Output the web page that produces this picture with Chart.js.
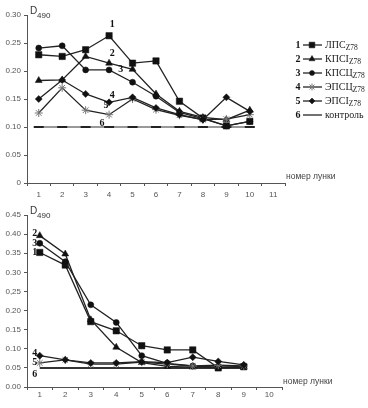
<!DOCTYPE html>
<html>
<head>
<meta charset="utf-8">
<script src="https://cdn.jsdelivr.net/npm/chart.js@4.4.1/dist/chart.umd.min.js"></script>
<style>
  body { margin: 0; background: #fff; }
  #wrap { position: relative; width: 368px; height: 408px; }
  canvas { position: absolute; left: 0; }
  #top { top: 0; }
  #bottom { top: 200px; }
</style>
</head>
<body>
<div id="wrap">
  <canvas id="top" width="368" height="200"></canvas>
  <canvas id="bottom" width="368" height="208"></canvas>
</div>
<script>
// данные
const wellsTop = ['1', '2', '3', '4', '5', '6', '7', '8', '9', '10', '11']
const wellsBottom = ['1', '2', '3', '4', '5', '6', '7', '8', '9', '10']

const seriesNames = ['ЛПС', 'КПСІ', 'КПСЦ', 'ЭПСЦ', 'ЭПСІ', 'контроль']

const lpsTop = [0.229, 0.226, 0.238, 0.263, 0.214, 0.218, 0.146, 0.116, 0.102, 0.110]
const kpsTop = [0.183, 0.184, 0.226, 0.214, 0.203, 0.159, 0.128, 0.117, 0.113, 0.130]
const kpscTop = [0.241, 0.245, 0.202, 0.202, 0.180, 0.155, 0.126, 0.115, 0.102, 0.110]
const epscTop = [0.125, 0.170, 0.130, 0.122, 0.150, 0.131, 0.121, 0.113, 0.114, 0.122]
const epsTop = [0.150, 0.184, 0.159, 0.144, 0.153, 0.134, 0.122, 0.113, 0.153, 0.128]
const controlTop = [0.10, 0.10, 0.10, 0.10, 0.10, 0.10, 0.10, 0.10, 0.10, 0.10]

const lpsBottom = [0.352, 0.319, 0.171, 0.147, 0.108, 0.097, 0.097, 0.050, 0.053]
const kpsBottom = [0.396, 0.348, 0.176, 0.104, 0.064, 0.054, 0.052, 0.052, 0.052]
const kpscBottom = [0.376, 0.328, 0.215, 0.169, 0.082, 0.062, 0.055, 0.052, 0.053]
const epscBottom = [0.063, 0.071, 0.060, 0.060, 0.065, 0.060, 0.055, 0.057, 0.055]
const epsBottom = [0.082, 0.071, 0.063, 0.063, 0.066, 0.064, 0.078, 0.067, 0.058]
const controlBottom = [0.05, 0.05, 0.05, 0.05, 0.05, 0.05, 0.05, 0.05, 0.05]

const yTicksTop = ['0', '0.05', '0.10', '0.15', '0.20', '0.25', '0.30']
const yTicksBottom = ['0.00', '0.05', '0.10', '0.15', '0.20', '0,25', '0.30', '0.35', '0.40', '0.45']

const tickFont = { family: 'Liberation Sans, Arial, sans-serif', size: 8 }
const TICK_COLOR = '#555'

const styles = [
    { pointStyle: 'rect', pointRadius: 4.5, color: '#111' },
    { pointStyle: 'triangle', pointRadius: 4, color: '#111' },
    { pointStyle: 'circle', pointRadius: 3, color: '#111' },
    { pointStyle: 'star', pointRadius: 4, color: '#777' },
    { pointStyle: 'rectRot', pointRadius: 3.5, color: '#111' }
]

const makeSets = (arrays, control, controlMarks) => {
    const sets = arrays.map((arr, i) => ({
        label: seriesNames[i],
        data: arr,
        borderColor: '#222',
        borderWidth: 1.3,
        pointStyle: styles[i].pointStyle,
        pointRadius: styles[i].pointRadius,
        pointBackgroundColor: styles[i].color,
        pointBorderColor: styles[i].color,
        pointBorderWidth: styles[i].pointStyle === 'star' ? 1 : 0.5,
        tension: 0
    }))
    sets.push({
        label: seriesNames[5],
        data: control,
        borderColor: '#333',
        borderWidth: controlMarks ? 1 : 2,
        pointStyle: 'line',
        pointRadius: controlMarks ? 5 : 0,
        pointBorderColor: '#222',
        pointBorderWidth: 2,
        order: 10
    })
    return sets.reverse()
}

// подписи, D490, легенда
const notesPlugin = {
    id: 'notes',
    afterDraw(chart, args, opts) {
        const ctx = chart.ctx
        const xs = chart.scales.x
        const ys = chart.scales.y
        const area = chart.chartArea
        ctx.save()
        ctx.textBaseline = 'middle'

        // D490
        ctx.font = '10px Liberation Sans, Arial, sans-serif'
        ctx.fillStyle = '#333'
        ctx.textAlign = 'left'
        ctx.fillText('D', area.left + 3, area.top - 4)
        ctx.font = '8px Liberation Sans, Arial, sans-serif'
        ctx.fillText('490', area.left + 10, area.top + 1)

        // номер лунки
        ctx.font = '8.5px Liberation Sans, Arial, sans-serif'
        ctx.fillStyle = '#444'
        ctx.fillText('номер лунки', area.right + 1, area.bottom - opts.axisTitleUp)

        // номера кривых
        ctx.font = 'bold 10px Liberation Serif, Times New Roman, serif'
        ctx.fillStyle = '#111'
        ctx.textAlign = 'center'
        opts.marks.forEach(m => {
            ctx.fillText(m[0], xs.getPixelForValue(m[1]), ys.getPixelForValue(m[2]))
        })

        if (opts.legend) {
            const lx = 298
            let ly = 45
            chart.data.datasets.slice().reverse().forEach((ds, i) => {
                ctx.font = 'bold 10px Liberation Serif, Times New Roman, serif'
                ctx.fillStyle = '#111'
                ctx.textAlign = 'center'
                ctx.fillText(String(i + 1), lx, ly)
                ctx.strokeStyle = '#111'
                ctx.lineWidth = 1.2
                ctx.beginPath()
                ctx.moveTo(lx + 5, ly)
                ctx.lineTo(lx + 24, ly)
                ctx.stroke()
                if (i < 5) {
                    ctx.fillStyle = styles[i].color
                    ctx.strokeStyle = styles[i].color
                    ctx.lineWidth = styles[i].pointStyle === 'star' ? 1 : 0.5
                    Chart.helpers.drawPoint(ctx, {
                        pointStyle: styles[i].pointStyle,
                        radius: styles[i].pointRadius - 0.5,
                        rotation: 0,
                        borderWidth: 1
                    }, lx + 14, ly)
                }
                ctx.fillStyle = '#222'
                ctx.textAlign = 'left'
                ctx.font = '10px Liberation Serif, Times New Roman, serif'
                ctx.fillText(ds.label, lx + 27, ly)
                if (i < 5) {
                    const w = ctx.measureText(ds.label).width
                    ctx.font = '7.5px Liberation Serif, Times New Roman, serif'
                    ctx.fillText('Z78', lx + 27 + w, ly + 3.5)
                }
                ly += 14
            })
        }
        ctx.restore()
    }
}

const makeOptions = (yMax, yLabels, pad, xHeight, labelPad, notes) => ({
    responsive: false,
    animation: false,
    layout: { padding: pad },
    plugins: {
        legend: { display: false },
        tooltip: { enabled: false },
        notes: notes
    },
    scales: {
        x: {
            offset: true,
            grid: { offset: true, drawOnChartArea: false, tickLength: 3, color: '#555' },
            border: { display: true, color: '#555', width: 1 },
            ticks: { font: tickFont, color: TICK_COLOR, padding: labelPad, maxRotation: 0 },
            afterFit: s => { s.height = xHeight }
        },
        y: {
            min: 0,
            max: yMax,
            grid: { drawOnChartArea: false, tickLength: 3, color: '#555' },
            border: { display: true, color: '#555', width: 1 },
            ticks: {
                stepSize: 0.05,
                font: tickFont,
                color: TICK_COLOR,
                padding: 3,
                callback: (v, i) => yLabels[i]
            },
            afterFit: s => { s.width = 27 }
        }
    }
})

new Chart(document.getElementById('top'), {
    type: 'line',
    data: {
        labels: wellsTop,
        datasets: makeSets([lpsTop, kpsTop, kpscTop, epscTop, epsTop], controlTop, true)
    },
    options: makeOptions(0.30, yTicksTop, { top: 15, right: 83, left: 0, bottom: 0 }, 17, 4, {
        axisTitleUp: 6,
        legend: true,
        marks: [['1', 3.13, 0.283], ['2', 3.13, 0.232], ['3', 3.5, 0.202],
                ['4', 3.13, 0.156], ['5', 2.87, 0.138], ['6', 2.7, 0.107]]
    }),
    plugins: [notesPlugin]
})

new Chart(document.getElementById('bottom'), {
    type: 'line',
    data: {
        labels: wellsBottom,
        datasets: makeSets([lpsBottom, kpsBottom, kpscBottom, epscBottom, epsBottom], controlBottom, false)
    },
    options: makeOptions(0.45, yTicksBottom, { top: 15, right: 86, left: 0, bottom: 0 }, 21, 0, {
        axisTitleUp: 5,
        legend: false,
        marks: [['2', -0.2, 0.402], ['3', -0.2, 0.376], ['1', -0.2, 0.352],
                ['4', -0.2, 0.087], ['5', -0.2, 0.063], ['6', -0.2, 0.034]]
    }),
    plugins: [notesPlugin]
})
</script>
</body>
</html>
